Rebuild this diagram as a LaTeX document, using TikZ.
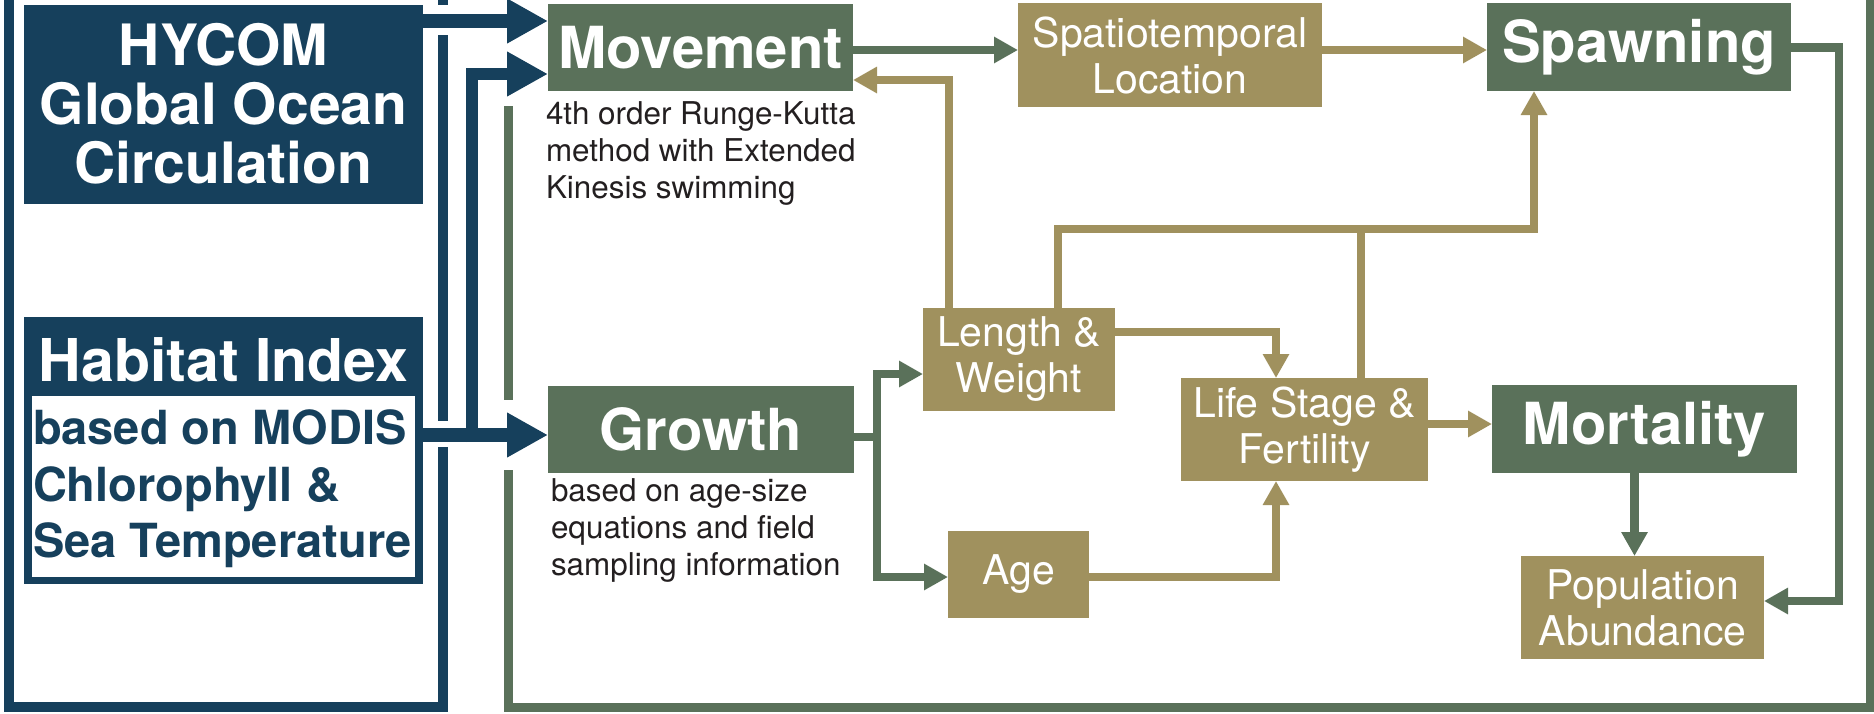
\documentclass[tikz,border=0pt]{standalone}
\usepackage{fontspec}
\setmainfont{TeX Gyre Heros}
\usetikzlibrary{arrows.meta}
\definecolor{navyc}{HTML}{16405C}
\definecolor{sagec}{HTML}{5A715A}
\definecolor{khakic}{HTML}{A0915E}
\definecolor{captc}{HTML}{231F20}
\newcommand\fTitle{\fontsize{58}{60}\selectfont\bfseries}
\newcommand\fHab{\fontsize{59}{60}\selectfont\bfseries}
\newcommand\fHy{\fontsize{57}{59}\selectfont\bfseries}
\newcommand\fBody{\fontsize{47}{56.5}\selectfont\bfseries}
\newcommand\fGold{\fontsize{41}{46}\selectfont}
\newcommand\fCap{\fontsize{31.4}{37}\selectfont}
\begin{document}
\begin{tikzpicture}[x=1pt,y=-1pt,
  box/.style={rectangle,inner sep=0pt,outer sep=0pt,align=center,text=white},
  navybox/.style={box,fill=navyc},
  greenbox/.style={box,fill=sagec,font=\fTitle},
  goldbox/.style={box,fill=khakic,font=\fGold},
  captxt/.style={inner sep=0pt,outer sep=0pt,align=left,text=captc,font=\fCap,anchor=north west},
  navyline/.style={draw=navyc,line width=10pt},
  navyarr/.style={draw=navyc,line width=14pt,-{Triangle[length=41pt,width=42pt]}},
  greenarr/.style={draw=sagec,line width=8.5pt,-{Triangle[length=24pt,width=25pt]}},
  goldarr/.style={draw=khakic,line width=8pt,-{Triangle[length=24pt,width=25pt]}},
  greenline/.style={draw=sagec,line width=9pt},
  goldline/.style={draw=khakic,line width=8pt},
]
\fill[white] (0,0) rectangle (1874,713);
\useasboundingbox (0,0) rectangle (1874,713);

% frames (cut off at the top of the picture)
\draw[navyline] (443,0) -- (443,5);
\draw[navyline] (443,35) -- (443,421);
\draw[navyline] (9,0) -- (9,707) -- (443,707) -- (443,447);
\draw[greenline] (508,106) -- (508,400);
\draw[greenline] (508,470) -- (508,707) -- (1870,707) -- (1870,0);

% input boxes
\node[navybox,font=\fHy,minimum width=399pt,minimum height=199pt] (hycom) at (223.5,104) {HYCOM\\Global Ocean\\Circulation};
\node[navybox,minimum width=399pt,minimum height=267pt] (habitat) at (223.5,450.5) {};
\node[box,font=\fHab] (habtitle) at (223.5,360) {Habitat Index};
\node[box,fill=white,minimum width=383pt,minimum height=181pt] (habinner) at (223.5,486.5) {};
\node[inner sep=0pt,outer sep=0pt,align=left,text=navyc,font=\fBody,anchor=west] (habtext) at (33,489) {based on MODIS\\Chlorophyll \&\\Sea Temperature};

% process boxes
\node[greenbox,minimum width=305pt,minimum height=87pt] (movement) at (700.5,47.5) {Movement};
\node[greenbox,minimum width=306pt,minimum height=87pt] (growth) at (701,429.5) {Growth};
\node[goldbox,minimum width=304pt,minimum height=104pt] (spatio) at (1170,55) {Spatiotemporal\\Location};
\node[greenbox,minimum width=304pt,minimum height=88pt] (spawning) at (1639,47) {Spawning};
\node[goldbox,minimum width=192pt,minimum height=103pt] (lw) at (1019,359.5) {Length \&\\Weight};
\node[goldbox,minimum width=141pt,minimum height=87pt] (age) at (1018.5,574.5) {Age};
\node[goldbox,minimum width=247pt,minimum height=103pt] (ls) at (1304.5,429.5) {Life Stage \&\\Fertility};
\node[greenbox,minimum width=305pt,minimum height=88pt] (mortality) at (1644.5,429) {Mortality};
\node[goldbox,minimum width=243pt,minimum height=103pt] (pop) at (1642.5,607.5) {Population\\Abundance};

% captions
\node[captxt] (movcap) at (546,102) {4th order Runge-Kutta\\method with Extended\\Kinesis swimming};
\node[captxt] (growcap) at (551,479) {based on age-size\\equations and field\\sampling information};

% navy connectors
\draw[navyarr] (hycom.east |- 0,21) -- (movement.west |- 0,21);
\draw[navyarr] (habitat.east |- 0,435) -- (growth.west |- 0,435);
\coordinate (br) at (472,442);
\draw[navyarr,line width=12pt] (br) -- (472,74) -- (movement.west |- 0,74);

% green / gold connectors
\draw[greenarr] (movement.east |- 0,50) -- (spatio.west |- 0,50);
\draw[goldarr] (spatio.east |- 0,50) -- (spawning.west |- 0,50);
\draw[greenarr] (spawning.east |- 0,47.5) -| (1839,601) -- (pop.east |- 0,601);
\coordinate (gj) at (877,437);
\draw[greenarr] (growth.east |- 0,437) -- (gj) |- (lw.west |- 0,374);
\draw[greenarr] (gj) |- (age.west |- 0,577);
\draw[goldarr] (lw.north -| 949,0) |- (movement.east |- 0,80);
\draw[goldarr] (lw.north -| 1058,0) |- (1534,229) -- (spawning.south -| 1534,0);
\draw[goldline] (ls.north -| 1361,0) -- (1361,229);
\draw[goldarr] (lw.east |- 0,332) -| (ls.north -| 1276,0);
\draw[goldarr] (age.east |- 0,577) -| (ls.south -| 1276,0);
\draw[goldarr] (ls.east |- 0,424) -- (mortality.west |- 0,424);
\draw[greenarr] (mortality.south -| 1634.5,0) -- (pop.north -| 1634.5,0);
\end{tikzpicture}
\end{document}
